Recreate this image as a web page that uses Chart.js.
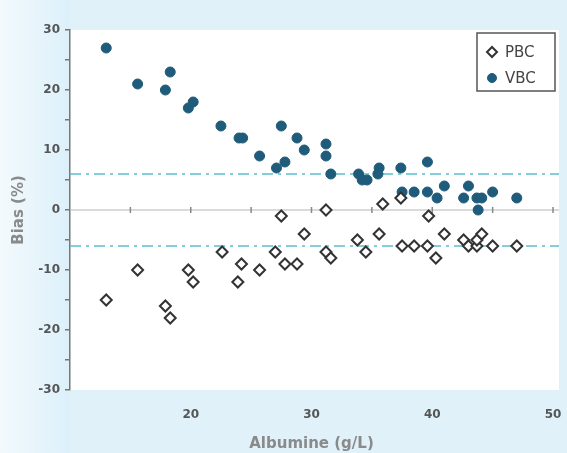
<!DOCTYPE html>
<html>
<head>
<meta charset="utf-8">
<script src="https://cdn.jsdelivr.net/npm/chart.js@4.4.1/dist/chart.umd.min.js"></script>
<style>
  html, body { margin: 0; padding: 0; background: #e2f2fa; }
  #wrap { width: 567px; height: 453px; }
</style>
</head>
<body>
<div id="wrap"><canvas id="biasChart" width="567" height="453"></canvas></div>
<script>
// Albumine (g/L) vs bias (%) for each method
var pbcX = [13.0, 15.6, 17.9, 18.3, 19.8, 20.2, 22.6, 23.9, 24.2, 25.7, 27.0, 27.5, 27.8, 28.8, 29.4, 31.2, 31.2, 31.6,
            33.8, 34.5, 35.6, 35.9, 37.4, 37.5, 38.5, 39.6, 39.7, 40.3, 41.0, 42.6, 43.0, 43.7, 43.7, 44.1, 45.0, 47.0];
var pbcY = [-15, -10, -16, -18, -10, -12, -7, -12, -9, -10, -7, -1, -9, -9, -4, 0, -7, -8,
            -5, -7, -4, 1, 2, -6, -6, -6, -1, -8, -4, -5, -6, -6, -5, -4, -6, -6];

var vbcX = [13.0, 15.6, 17.9, 18.3, 19.8, 20.2, 22.5, 24.0, 24.3, 25.7, 27.1, 27.5, 27.8, 28.8, 29.4, 31.2, 31.2, 31.6,
            33.9, 34.2, 34.6, 35.6, 35.5, 37.4, 37.5, 38.5, 39.6, 39.6, 40.4, 41.0, 42.6, 43.0, 43.7, 44.1, 43.8, 45.0, 47.0];
var vbcY = [27, 21, 20, 23, 17, 18, 14, 12, 12, 9, 7, 14, 8, 12, 10, 11, 9, 6,
            6, 5, 5, 7, 6, 7, 3, 3, 8, 3, 2, 4, 2, 4, 2, 2, 0, 3, 2];

var limitLines = [6, -6];        // dash-dot limits
var xTickMarks = [15, 20, 25, 30, 35, 40, 45, 50];
var seriesNames = ['PBC', 'VBC'];

var fontFamily = '"DejaVu Sans", "Liberation Sans", Arial, sans-serif';

function toPoints(xs, ys) {
    return xs.map(function (x, i) { return { x: x, y: ys[i] }; });
}

// background, white plot area, zero line, limit lines
var backdropPlugin = {
    id: 'backdrop',
    beforeDraw: function (chart) {
        var ctx = chart.ctx, a = chart.chartArea;
        ctx.save();
        var g = ctx.createLinearGradient(0, 0, 70, 0);
        g.addColorStop(0, '#f3fafd');
        g.addColorStop(1, '#dcf0fa');
        ctx.fillStyle = '#e0f1fa';
        ctx.fillRect(0, 0, chart.width, chart.height);
        ctx.fillStyle = g;
        ctx.fillRect(0, 0, 70, chart.height);
        ctx.fillStyle = '#ffffff';
        ctx.fillRect(a.left, a.top, a.right - a.left + 6, a.bottom - a.top);
        ctx.restore();
    },
    beforeDatasetsDraw: function (chart) {
        var ctx = chart.ctx, a = chart.chartArea;
        var xs = chart.scales.x, ys = chart.scales.y;
        var y0 = ys.getPixelForValue(0);
        ctx.save();
        ctx.strokeStyle = '#b5b5b5';
        ctx.lineWidth = 1;
        ctx.beginPath();
        ctx.moveTo(a.left, y0);
        ctx.lineTo(a.right + 6, y0);
        ctx.stroke();
        ctx.strokeStyle = '#888';
        ctx.lineWidth = 1.5;
        xTickMarks.forEach(function (v) {
            var px = xs.getPixelForValue(v);
            ctx.beginPath();
            ctx.moveTo(px, y0 - 3);
            ctx.lineTo(px, y0 + 3);
            ctx.stroke();
        });
        ctx.strokeStyle = '#5cbfcf';
        ctx.lineWidth = 1.5;
        ctx.setLineDash([11, 5, 3, 5]);
        limitLines.forEach(function (v) {
            var py = ys.getPixelForValue(v);
            ctx.beginPath();
            ctx.moveTo(a.left, py);
            ctx.lineTo(a.right + 6, py);
            ctx.stroke();
        });
        ctx.restore();
    }
};

// boxed legend in the top right corner
var boxLegendPlugin = {
    id: 'boxLegend',
    afterDraw: function (chart) {
        var ctx = chart.ctx;
        var left = 477, top = 33, w = 78, h = 58;
        ctx.save();
        ctx.fillStyle = '#ffffff';
        ctx.fillRect(left, top, w, h);
        ctx.strokeStyle = '#555';
        ctx.lineWidth = 1.5;
        ctx.strokeRect(left, top, w, h);
        ctx.font = '15px ' + fontFamily;
        ctx.textBaseline = 'middle';
        chart.data.datasets.forEach(function (ds, i) {
            var cy = top + 19 + i * 26;
            ctx.fillStyle = ds.backgroundColor;
            ctx.strokeStyle = ds.borderColor;
            ctx.lineWidth = ds.borderWidth;
            ctx.beginPath();
            if (ds.pointStyle === 'rectRot') {
                ctx.moveTo(left + 15, cy - 5);
                ctx.lineTo(left + 20, cy);
                ctx.lineTo(left + 15, cy + 5);
                ctx.lineTo(left + 10, cy);
                ctx.closePath();
            } else {
                ctx.arc(left + 15, cy, 4.5, 0, Math.PI * 2);
            }
            ctx.fill();
            ctx.stroke();
            ctx.fillStyle = '#444';
            ctx.fillText(ds.label, left + 28, cy + 1);
        });
        ctx.restore();
    }
};

var ctx = document.getElementById('biasChart').getContext('2d');
new Chart(ctx, {
    type: 'scatter',
    data: {
        datasets: [{
            label: seriesNames[0],
            data: toPoints(pbcX, pbcY),
            pointStyle: 'rectRot',
            pointRadius: 5.5,
            backgroundColor: '#ffffff',
            borderColor: '#333333',
            borderWidth: 2
        }, {
            label: seriesNames[1],
            data: toPoints(vbcX, vbcY),
            pointStyle: 'circle',
            pointRadius: 5,
            backgroundColor: '#1f5b7a',
            borderColor: '#1f5b7a',
            borderWidth: 1
        }]
    },
    options: {
        responsive: false,
        animation: false,
        layout: { padding: { left: 0, right: 14, top: 30, bottom: 0 } },
        scales: {
            x: {
                type: 'linear',
                min: 10,
                max: 50,
                grid: { display: false, drawTicks: false },
                border: { display: false },
                ticks: {
                    stepSize: 10,
                    padding: 18,
                    color: '#555',
                    font: { family: fontFamily, size: 12, weight: 'bold' },
                    callback: function (v) { return v === 10 ? '' : v; }
                },
                title: {
                    display: true,
                    text: 'Albumine (g/L)',
                    color: '#8a8a8a',
                    padding: { top: 0, bottom: 0 },
                    font: { family: fontFamily, size: 15, weight: 'bold' }
                },
                afterFit: function (s) {
                    s.height = 63;
                    s.paddingLeft = 0;
                    s.paddingRight = 0;
                }
            },
            y: {
                min: -30,
                max: 30,
                grid: { drawOnChartArea: false, drawTicks: true, tickLength: 5, color: '#777', lineWidth: 1.5 },
                border: { display: true, color: '#777', width: 1.5 },
                ticks: {
                    stepSize: 5,
                    padding: 5,
                    color: '#555',
                    font: { family: fontFamily, size: 12, weight: 'bold' },
                    callback: function (v) { return v % 10 === 0 ? v : ''; }
                },
                title: {
                    display: true,
                    text: 'Bias (%)',
                    color: '#8a8a8a',
                    padding: { top: 10, bottom: 0 },
                    font: { family: fontFamily, size: 15, weight: 'bold' }
                },
                afterFit: function (s) { s.width = 70; }
            }
        },
        plugins: {
            legend: { display: false },
            tooltip: { enabled: false }
        }
    },
    plugins: [backdropPlugin, boxLegendPlugin]
});
</script>
</body>
</html>
